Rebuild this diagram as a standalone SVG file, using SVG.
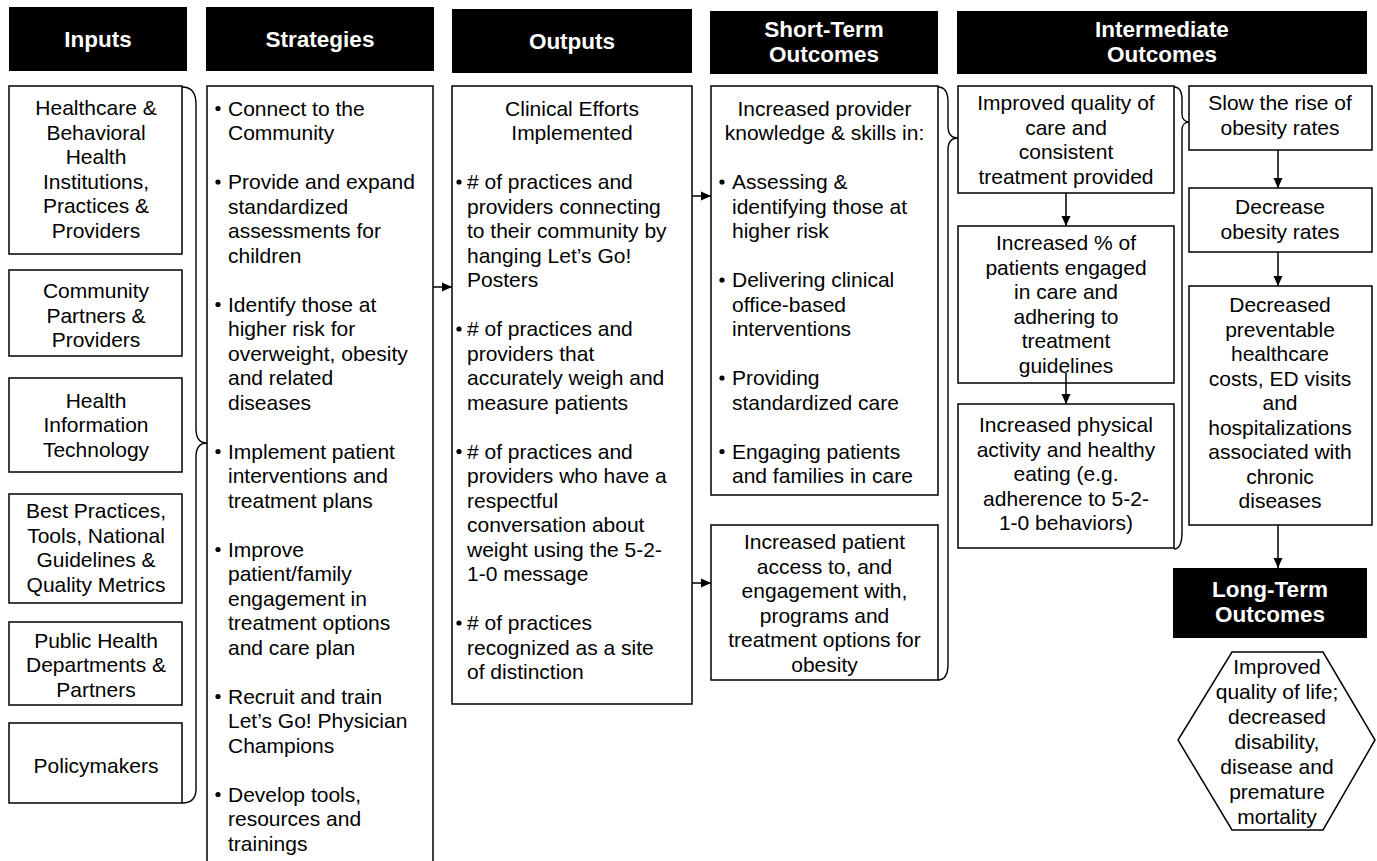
<svg xmlns="http://www.w3.org/2000/svg" width="1377" height="861" viewBox="0 0 1377 861">
<style>
text{font-family:"Liberation Sans",Arial,sans-serif;font-size:21px;fill:#000}
.c{text-anchor:middle}
.h{font-weight:bold;fill:#fff;font-size:22.5px;text-anchor:middle}
.hb{fill:#000}
.bx{fill:#fff;stroke:#000;stroke-width:1.5}
.br{fill:none;stroke:#000;stroke-width:1.4}
.cn{stroke:#000;stroke-width:1.5;fill:none;marker-end:url(#ah)}
</style>
<defs>
<marker id="ah" markerWidth="10" markerHeight="10" refX="10" refY="5" orient="auto" markerUnits="userSpaceOnUse"><path d="M0,0.5 L10,5 L0,9.5 z" fill="#000"/></marker>
</defs>
<rect width="1377" height="861" fill="#fff"/>

<g id="headers">
<g id="h-inputs"><rect class="hb" x="9" y="7" width="178" height="64"/><text class="h" x="98" y="47">Inputs</text></g>
<g id="h-strategies"><rect class="hb" x="206" y="7" width="228" height="64"/><text class="h" x="320" y="47">Strategies</text></g>
<g id="h-outputs"><rect class="hb" x="452" y="9" width="240" height="64"/><text class="h" x="572" y="49">Outputs</text></g>
<g id="h-short"><rect class="hb" x="710" y="11" width="228" height="63"/><text class="h" x="824" y="37">Short-Term</text><text class="h" x="824" y="62">Outcomes</text></g>
<g id="h-inter"><rect class="hb" x="957" y="11" width="410" height="63"/><text class="h" x="1162" y="37">Intermediate</text><text class="h" x="1162" y="62">Outcomes</text></g>
<g id="h-long"><rect class="hb" x="1173" y="568" width="194" height="70"/><text class="h" x="1270" y="597">Long-Term</text><text class="h" x="1270" y="622">Outcomes</text></g>
</g>

<g id="in1"><rect class="bx" x="9" y="86" width="173" height="168"/>
<text class="c"><tspan x="96" y="115">Healthcare &amp;</tspan><tspan x="96" y="139.5">Behavioral</tspan><tspan x="96" y="164">Health</tspan><tspan x="96" y="188.5">Institutions,</tspan><tspan x="96" y="213">Practices &amp;</tspan><tspan x="96" y="237.5">Providers</tspan></text></g>
<g id="in2"><rect class="bx" x="9" y="270" width="173" height="86"/>
<text class="c"><tspan x="96" y="298">Community</tspan><tspan x="96" y="322.5">Partners &amp;</tspan><tspan x="96" y="347">Providers</tspan></text></g>
<g id="in3"><rect class="bx" x="9" y="378" width="173" height="94"/>
<text class="c"><tspan x="96" y="407.5">Health</tspan><tspan x="96" y="432">Information</tspan><tspan x="96" y="456.5">Technology</tspan></text></g>
<g id="in4"><rect class="bx" x="9" y="494" width="173" height="109"/>
<text class="c"><tspan x="96" y="518">Best Practices,</tspan><tspan x="96" y="542.5">Tools, National</tspan><tspan x="96" y="567">Guidelines &amp;</tspan><tspan x="96" y="591.5">Quality Metrics</tspan></text></g>
<g id="in5"><rect class="bx" x="9" y="622" width="173" height="83"/>
<text class="c"><tspan x="96" y="647.5">Public Health</tspan><tspan x="96" y="672">Departments &amp;</tspan><tspan x="96" y="696.5">Partners</tspan></text></g>
<g id="in6"><rect class="bx" x="9" y="723" width="173" height="80"/>
<text class="c" x="96" y="773">Policymakers</text></g>

<g id="strategies"><rect class="bx" x="207" y="86" width="226" height="800"/>
<g fill="#000"><circle cx="218" cy="108.5" r="2.6"/><circle cx="218" cy="182" r="2.6"/><circle cx="218" cy="304.5" r="2.6"/><circle cx="218" cy="451.5" r="2.6"/><circle cx="218" cy="549.5" r="2.6"/><circle cx="218" cy="696.5" r="2.6"/><circle cx="218" cy="794.5" r="2.6"/></g>
<text><tspan x="228" y="115.5">Connect to the</tspan><tspan x="228" y="140">Community</tspan>
<tspan x="228" y="189">Provide and expand</tspan><tspan x="228" y="213.5">standardized</tspan><tspan x="228" y="238">assessments for</tspan><tspan x="228" y="262.5">children</tspan>
<tspan x="228" y="311.5">Identify those at</tspan><tspan x="228" y="336">higher risk for</tspan><tspan x="228" y="360.5">overweight, obesity</tspan><tspan x="228" y="385">and related</tspan><tspan x="228" y="409.5">diseases</tspan>
<tspan x="228" y="458.5">Implement patient</tspan><tspan x="228" y="483">interventions and</tspan><tspan x="228" y="507.5">treatment plans</tspan>
<tspan x="228" y="556.5">Improve</tspan><tspan x="228" y="581">patient/family</tspan><tspan x="228" y="605.5">engagement in</tspan><tspan x="228" y="630">treatment options</tspan><tspan x="228" y="654.5">and care plan</tspan>
<tspan x="228" y="703.5">Recruit and train</tspan><tspan x="228" y="728">Let’s Go! Physician</tspan><tspan x="228" y="752.5">Champions</tspan>
<tspan x="228" y="801.5">Develop tools,</tspan><tspan x="228" y="826">resources and</tspan><tspan x="228" y="850.5">trainings</tspan></text></g>

<g id="outputs"><rect class="bx" x="452" y="86" width="240" height="618"/>
<text class="c"><tspan x="572" y="115.5">Clinical Efforts</tspan><tspan x="572" y="140">Implemented</tspan></text>
<g fill="#000"><circle cx="459" cy="182" r="2.6"/><circle cx="459" cy="329" r="2.6"/><circle cx="459" cy="451.5" r="2.6"/><circle cx="459" cy="623" r="2.6"/></g>
<text><tspan x="467" y="189"># of practices and</tspan><tspan x="467" y="213.5">providers connecting</tspan><tspan x="467" y="238">to their community by</tspan><tspan x="467" y="262.5">hanging Let’s Go!</tspan><tspan x="467" y="287">Posters</tspan>
<tspan x="467" y="336"># of practices and</tspan><tspan x="467" y="360.5">providers that</tspan><tspan x="467" y="385">accurately weigh and</tspan><tspan x="467" y="409.5">measure patients</tspan>
<tspan x="467" y="458.5"># of practices and</tspan><tspan x="467" y="483">providers who have a</tspan><tspan x="467" y="507.5">respectful</tspan><tspan x="467" y="532">conversation about</tspan><tspan x="467" y="556.5">weight using the 5-2-</tspan><tspan x="467" y="581">1-0 message</tspan>
<tspan x="467" y="630"># of practices</tspan><tspan x="467" y="654.5">recognized as a site</tspan><tspan x="467" y="679">of distinction</tspan></text></g>

<g id="st1"><rect class="bx" x="711" y="86" width="227" height="409"/>
<text class="c"><tspan x="824.5" y="115.5">Increased provider</tspan><tspan x="824.5" y="140">knowledge &amp; skills in:</tspan></text>
<g fill="#000"><circle cx="722" cy="182" r="2.6"/><circle cx="722" cy="280" r="2.6"/><circle cx="722" cy="378" r="2.6"/><circle cx="722" cy="451.5" r="2.6"/></g>
<text><tspan x="732" y="189">Assessing &amp;</tspan><tspan x="732" y="213.5">identifying those at</tspan><tspan x="732" y="238">higher risk</tspan>
<tspan x="732" y="287">Delivering clinical</tspan><tspan x="732" y="311.5">office-based</tspan><tspan x="732" y="336">interventions</tspan>
<tspan x="732" y="385">Providing</tspan><tspan x="732" y="409.5">standardized care</tspan>
<tspan x="732" y="458.5">Engaging patients</tspan><tspan x="732" y="483">and families in care</tspan></text></g>

<g id="st2"><rect class="bx" x="711" y="525" width="227" height="155"/>
<text class="c"><tspan x="824.5" y="549">Increased patient</tspan><tspan x="824.5" y="573.5">access to, and</tspan><tspan x="824.5" y="598">engagement with,</tspan><tspan x="824.5" y="622.5">programs and</tspan><tspan x="824.5" y="647">treatment options for</tspan><tspan x="824.5" y="671.5">obesity</tspan></text></g>

<g id="im1"><rect class="bx" x="958" y="86" width="216" height="107"/>
<text class="c"><tspan x="1066" y="110">Improved quality of</tspan><tspan x="1066" y="134.5">care and</tspan><tspan x="1066" y="159">consistent</tspan><tspan x="1066" y="183.5">treatment provided</tspan></text></g>
<g id="im2"><rect class="bx" x="958" y="226" width="216" height="157"/>
<text class="c"><tspan x="1066" y="250">Increased % of</tspan><tspan x="1066" y="274.5">patients engaged</tspan><tspan x="1066" y="299">in care and</tspan><tspan x="1066" y="323.5">adhering to</tspan><tspan x="1066" y="348">treatment</tspan><tspan x="1066" y="372.5">guidelines</tspan></text></g>
<g id="im3"><rect class="bx" x="958" y="404" width="216" height="144"/>
<text class="c"><tspan x="1066" y="432">Increased physical</tspan><tspan x="1066" y="456.5">activity and healthy</tspan><tspan x="1066" y="481">eating (e.g.</tspan><tspan x="1066" y="505.5">adherence to 5-2-</tspan><tspan x="1066" y="530">1-0 behaviors)</tspan></text></g>

<g id="r1"><rect class="bx" x="1189" y="86" width="183" height="64"/>
<text class="c"><tspan x="1280" y="110">Slow the rise of</tspan><tspan x="1280" y="134.5">obesity rates</tspan></text></g>
<g id="r2"><rect class="bx" x="1189" y="188" width="183" height="64"/>
<text class="c"><tspan x="1280" y="214">Decrease</tspan><tspan x="1280" y="238.5">obesity rates</tspan></text></g>
<g id="r3"><rect class="bx" x="1189" y="286" width="183" height="239"/>
<text class="c"><tspan x="1280" y="312">Decreased</tspan><tspan x="1280" y="336.5">preventable</tspan><tspan x="1280" y="361">healthcare</tspan><tspan x="1280" y="385.5">costs, ED visits</tspan><tspan x="1280" y="410">and</tspan><tspan x="1280" y="434.5">hospitalizations</tspan><tspan x="1280" y="459">associated with</tspan><tspan x="1280" y="483.5">chronic</tspan><tspan x="1280" y="508">diseases</tspan></text></g>

<g id="lt"><polygon class="bx" points="1232,652 1323,652 1375,740 1323,830 1232,830 1178,740"/>
<text class="c"><tspan x="1277" y="674">Improved</tspan><tspan x="1277" y="699">quality of life;</tspan><tspan x="1277" y="724">decreased</tspan><tspan x="1277" y="749">disability,</tspan><tspan x="1277" y="774">disease and</tspan><tspan x="1277" y="799">premature</tspan><tspan x="1277" y="824">mortality</tspan></text></g>

<g id="connectors">
<path class="br" d="M182 87 C191 87 196 92 196 104 L196 429 C196 438 200 443 207 443 C200 443 196 448 196 457 L196 789 C196 799 191 803 182 803"/>
<path class="br" d="M938 87 C945 87 948 92 948 102 L948 126 C948 134 952 138 958 138 C952 138 948 142 948 150 L948 664 C948 675 945 680 938 680"/>
<path class="br" d="M1174 87 C1180 87 1182 92 1182 100 L1182 114 C1182 119 1185 122 1189 122 C1185 122 1182 125 1182 130 L1182 532 C1182 543 1180 549 1174 549"/>
<line class="cn" x1="433" y1="287" x2="452" y2="287"/>
<line class="cn" x1="692" y1="196" x2="711" y2="196"/>
<line class="cn" x1="692" y1="583" x2="711" y2="583"/>
<line class="cn" x1="1066" y1="193" x2="1066" y2="226"/>
<line class="cn" x1="1066" y1="373" x2="1066" y2="404"/>
<line class="cn" x1="1278" y1="150" x2="1278" y2="188"/>
<line class="cn" x1="1278" y1="252" x2="1278" y2="286"/>
<line class="cn" x1="1278" y1="525" x2="1278" y2="568"/>
</g>
</svg>
